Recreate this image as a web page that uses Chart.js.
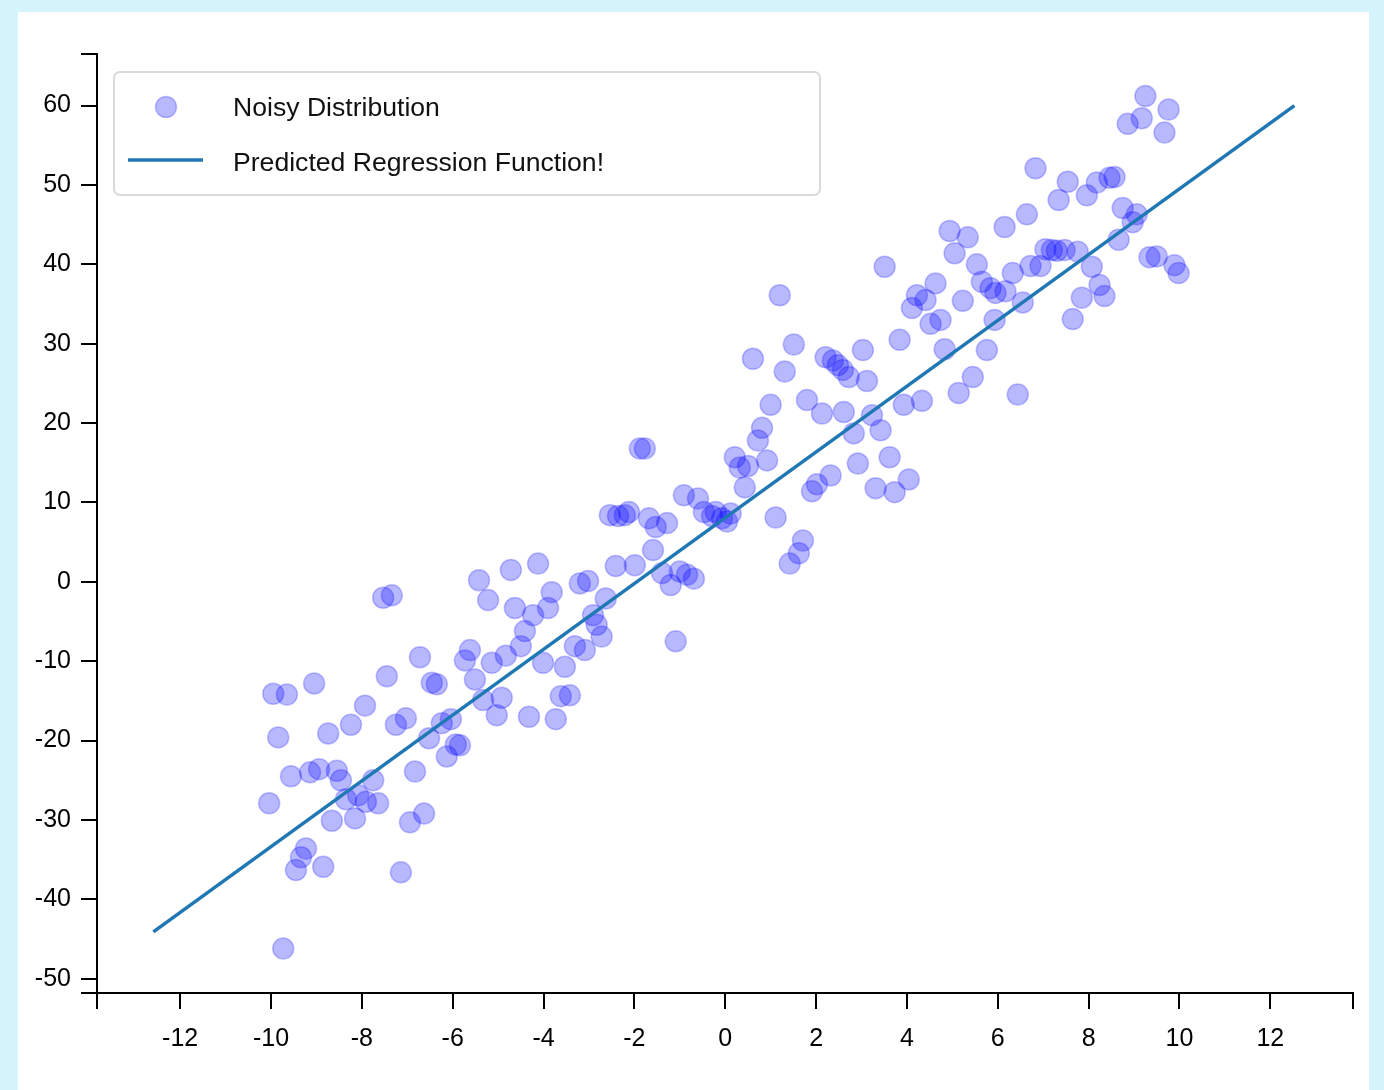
<!DOCTYPE html>
<html>
<head>
<meta charset="utf-8">
<script src="https://cdn.jsdelivr.net/npm/chart.js@4"></script>
<style>
  html, body { margin: 0; padding: 0; }
  body { width: 1384px; height: 1090px; background: #d6f4fc; position: relative; overflow: hidden; }
  #panel { position: absolute; left: 18px; top: 12px; width: 1351px; height: 1078px; background: #fff; }
  #chart { position: absolute; left: 0; top: 0; }
</style>
</head>
<body>
<div id="panel"></div>
<canvas id="chart" width="1384" height="1090"></canvas>
<script>
// Noisy Distribution (x, y)
const noisyX = [
  -10.04, -9.95, -9.65, -9.84, -9.56, -9.14, -8.94, -8.55, -8.46, -8.35,
  -8.08, -7.91, -7.64, -7.75, -8.66, -8.15, -9.23, -9.34, -9.45, -8.85,
  -7.14, -9.73, -9.05, -8.74, -8.24, -7.93, -7.45, -7.53, -7.34, -6.72,
  -7.25, -7.03, -6.83, -6.94, -6.63, -6.52, -6.46, -6.35, -6.24, -6.04,
  -6.13, -5.93, -5.84, -5.62, -5.73, -5.51, -5.42, -5.22, -4.72, -4.12,
  -5.14, -4.83, -4.50, -4.41, -4.23, -4.63, -3.90, -3.82, -4.92, -5.33,
  -5.03, -4.32, -3.73, -4.01, -3.53, -3.62, -3.42, -3.31, -3.09, -3.20,
  -3.02, -2.63, -2.91, -2.83, -2.72, -2.41, -1.99, -1.59, -1.39, -1.20,
  -1.00, -0.84, -0.69, -1.09, -2.54, -2.36, -2.21, -2.12, -1.68, -1.53,
  -1.28, -1.88, -1.77, -0.91, -0.60, -0.47, -0.29, -0.21, -0.07, 0.04,
  0.12, 0.21, 0.32, 0.50, 0.43, 0.72, 0.81, 0.92, 0.61, 1.00,
  1.31, 1.20, 1.51, 1.11, 1.71, 1.62, 1.42, 2.32, 2.02, 1.91,
  1.80, 2.13, 2.21, 2.37, 2.48, 2.59, 2.72, 3.03, 3.12, 2.61,
  2.83, 3.23, 3.42, 2.92, 3.62, 3.31, 3.73, 4.04, 3.51, 3.84,
  3.93, 4.33, 4.11, 4.22, 4.41, 4.63, 4.52, 4.74, 4.83, 4.94,
  5.34, 5.05, 5.23, 5.45, 5.14, 5.76, 5.93, 5.54, 5.65, 5.84,
  5.95, 6.15, 6.33, 6.17, 6.55, 6.44, 6.64, 6.83, 7.34, 7.54,
  7.96, 8.18, 8.46, 8.57, 6.72, 6.94, 7.05, 7.19, 7.30, 7.47,
  7.76, 8.07, 7.85, 8.24, 8.35, 7.65, 8.66, 8.75, 9.06, 8.97,
  9.34, 9.50, 9.89, 9.98, 9.25, 9.76, 9.17, 8.86, 9.67
];
const noisyY = [
  -27.9, -14.1, -14.2, -19.6, -24.5, -24.0, -23.6, -23.8, -25.0, -27.4,
  -26.9, -27.7, -27.9, -25.0, -30.1, -29.8, -33.6, -34.7, -36.3, -35.9,
  -36.6, -46.2, -12.8, -19.1, -18.0, -15.6, -11.9, -2.0, -1.7, -9.5,
  -18.0, -17.2, -23.9, -30.3, -29.2, -19.7, -12.7, -12.9, -17.8, -17.3,
  -22.0, -20.5, -20.6, -8.6, -9.9, -12.3, 0.2, -2.3, 1.5, 2.3,
  -10.2, -9.3, -8.1, -6.2, -4.2, -3.3, -3.3, -1.3, -14.6, -14.9,
  -16.8, -17.0, -17.3, -10.2, -10.7, -14.4, -14.3, -8.1, -8.6, -0.2,
  0.1, -2.1, -4.2, -5.4, -6.9, 2.0, 2.1, 4.0, 1.1, -0.4,
  1.3, 0.9, 0.4, -7.5, 8.4, 8.3, 8.4, 8.8, 8.0, 6.9,
  7.4, 16.8, 16.8, 10.9, 10.5, 8.8, 8.3, 8.8, 8.0, 7.6,
  8.6, 15.7, 14.4, 14.6, 11.9, 17.8, 19.4, 15.3, 28.1, 22.3,
  26.5, 36.1, 29.9, 8.1, 5.2, 3.6, 2.3, 13.4, 12.3, 11.4,
  22.9, 21.2, 28.3, 27.9, 27.3, 26.7, 25.8, 29.2, 25.3, 21.4,
  18.7, 21.0, 19.1, 14.9, 15.7, 11.8, 11.3, 12.9, 39.7, 30.5,
  22.3, 22.8, 34.5, 36.1, 35.5, 37.6, 32.5, 33.0, 29.3, 44.2,
  43.4, 41.4, 35.4, 25.8, 23.8, 29.2, 33.0, 40.0, 37.8, 37.0,
  36.4, 44.7, 38.9, 36.6, 35.2, 23.6, 46.3, 52.1, 48.1, 50.4,
  48.7, 50.3, 50.9, 51.0, 39.8, 39.8, 41.9, 41.8, 41.7, 41.8,
  41.6, 39.7, 35.8, 37.4, 36.0, 33.1, 43.1, 47.1, 46.3, 45.3,
  40.9, 41.0, 39.9, 38.9, 61.2, 59.5, 58.4, 57.7, 56.6
];

// Predicted Regression Function! (end points)
const lineX = [-12.59, 12.53];
const lineY = [-44.1, 60.0];

const xTicks = [-12, -10, -8, -6, -4, -2, 0, 2, 4, 6, 8, 10, 12];
const yTicks = [-50, -40, -30, -20, -10, 0, 10, 20, 30, 40, 50, 60];
const xRange = [-13.83, 13.82];
const yRange = [-51.8, 66.5];

const seriesNames = ['Noisy Distribution', 'Predicted Regression Function!'];

const pointFill = 'rgba(0, 0, 255, 0.28)';
const pointEdge = 'rgba(0, 0, 255, 0.24)';
const lineColor = '#1f77b4';
const fontFamily = '"Liberation Sans", Arial, Helvetica, sans-serif';

const scatterPoints = noisyX.map((x, i) => ({ x: x, y: noisyY[i] }));
const linePoints = lineX.map((x, i) => ({ x: x, y: lineY[i] }));

function keepTick(list) {
  return (value) => list.some(t => Math.abs(t - value) < 1e-6) ? String(Math.round(value)) : '';
}

// tick marks at each label plus the two ends of the axis (outer ticks)
function setTicks(list, range) {
  return (scale) => {
    scale.ticks = [range[0], ...list, range[1]].map(v => ({ value: v }));
  };
}

// legend box drawn inside the plot, top left
const legendBox = {
  id: 'legendBox',
  afterDraw(chart) {
    const ctx = chart.ctx;
    ctx.save();
    ctx.beginPath();
    ctx.roundRect(114, 72, 706, 123, 6);
    ctx.fillStyle = '#ffffff';
    ctx.fill();
    ctx.strokeStyle = '#dadada';
    ctx.lineWidth = 2;
    ctx.stroke();

    ctx.beginPath();
    ctx.arc(166, 107, 10.5, 0, Math.PI * 2);
    ctx.fillStyle = pointFill;
    ctx.fill();
    ctx.strokeStyle = pointEdge;
    ctx.lineWidth = 1.5;
    ctx.stroke();

    ctx.beginPath();
    ctx.moveTo(128, 160);
    ctx.lineTo(203, 160);
    ctx.strokeStyle = lineColor;
    ctx.lineWidth = 3.5;
    ctx.stroke();

    ctx.fillStyle = '#111';
    ctx.font = '26.6px ' + fontFamily;
    ctx.textBaseline = 'middle';
    ctx.textAlign = 'left';
    ctx.fillText(seriesNames[0], 233, 109);
    ctx.fillText(seriesNames[1], 233, 164);
    ctx.restore();
  }
};

const axisStyle = {
  grid: { display: true, drawOnChartArea: false, drawTicks: true, tickLength: 16, color: '#000', lineWidth: 2 },
  border: { display: true, color: '#000', width: 2 }
};

const config = {
  type: 'scatter',
  data: {
    datasets: [
      {
        label: seriesNames[1],
        data: linePoints,
        showLine: true,
        borderColor: lineColor,
        borderWidth: 3.5,
        pointRadius: 0,
        order: 0
      },
      {
        label: seriesNames[0],
        data: scatterPoints,
        backgroundColor: pointFill,
        borderColor: pointEdge,
        borderWidth: 1.5,
        pointRadius: 10.5,
        order: 1
      }
    ]
  },
  options: {
    responsive: false,
    animation: false,
    events: [],
    layout: { padding: { top: 54, right: 31, left: 0, bottom: 0 } },
    plugins: { legend: { display: false }, tooltip: { enabled: false } },
    scales: {
      x: {
        type: 'linear',
        position: 'bottom',
        min: xRange[0],
        max: xRange[1],
        afterBuildTicks: setTicks(xTicks, xRange),
        ticks: {
          autoSkip: false,
          maxRotation: 0,
          padding: 15,
          color: '#000',
          font: { family: fontFamily, size: 25 },
          callback: keepTick(xTicks)
        },
        grid: axisStyle.grid,
        border: axisStyle.border,
        afterFit(scale) { scale.height = 97; }
      },
      y: {
        type: 'linear',
        position: 'left',
        min: yRange[0],
        max: yRange[1],
        afterBuildTicks: setTicks(yTicks, yRange),
        ticks: {
          autoSkip: false,
          padding: 10,
          color: '#000',
          font: { family: fontFamily, size: 25 },
          callback: keepTick(yTicks)
        },
        grid: axisStyle.grid,
        border: axisStyle.border,
        afterFit(scale) { scale.width = 97; }
      }
    }
  },
  plugins: [legendBox]
};

const regressionChart = new Chart(document.getElementById('chart'), config);
</script>
</body>
</html>
